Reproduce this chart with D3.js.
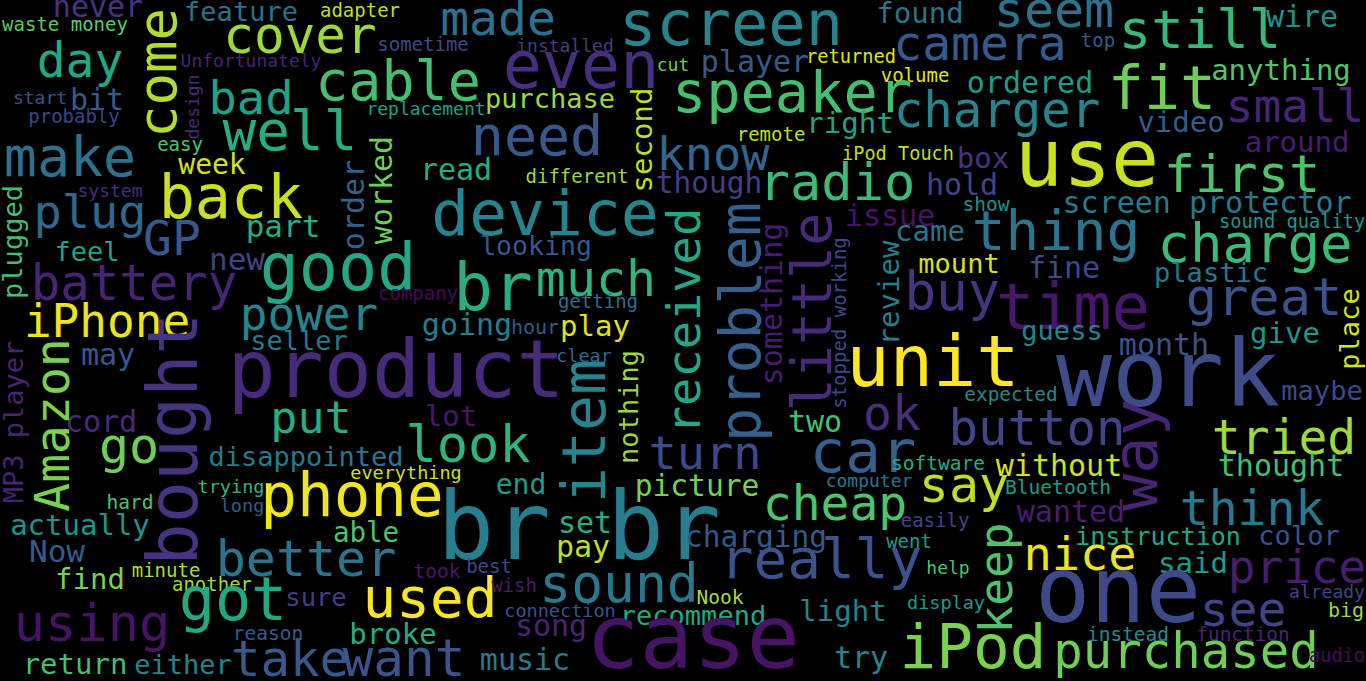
<!DOCTYPE html>
<html>
<head>
<meta charset="utf-8">
<script src="https://cdn.jsdelivr.net/npm/d3@7"></script>
<style>
  html, body { margin: 0; padding: 0; background: #000; overflow: hidden; }
  text { font-family: "DejaVu Sans Mono", "Liberation Mono", monospace; }
</style>
</head>
<body>
<svg id="cloud"></svg>
<script>
// words, relative frequency and colour tone (viridis position)
const words = [
  "never","waste money","feature","adapter","cover","made","sometime","installed","screen","found",
  "seem","still","wire","camera","top","day","cable","Unfortunately","start","bit",
  "probably","bad","well","make","easy","week","back","system","plug","GP",
  "part","feel","new","good","battery","company","iPhone","power","seller","going",
  "hour","play","may","product","cord","put","go","disappointed","lot","look",
  "everything","trying","hard","long","phone","actually","able","Now","better","find",
  "minute","took","another","got","sure","used","using","reason","broke","return",
  "either","take","want","even","cut","player","returned","volume","purchase","replacement",
  "speaker","need","read","remote","right","iPod Touch","know","different","though","radio",
  "device","looking","br","much","getting","issue","came","clear","unit","two",
  "ok","turn","car","end","picture","cheap","computer","software","set","br br",
  "pay","charging","really","best","wish","sound","Nook","connection","recommend","light",
  "song","case","music","try","ordered","fit","anything","charger","small","video",
  "around","box","use","first","hold","show","screen protector","thing","sound quality","charge",
  "mount","fine","plastic","buy","time","great","guess","give","month","work",
  "expected","maybe","button","tried","without","thought","say","Bluetooth","think","wanted",
  "easily","went","instruction","color","nice","said","price","help","one","already",
  "display","see","big","instead","function","iPod","purchased","audio",
  "come","design","order","worked","plugged","second","received","problem","something","little",
  "stopped working","review","place","MP3 player","Amazon","bought","nothing","item","way","keep"
];

const freq = [
  .30,.19,.27,.19,.51,.48,.19,.18,.62,.29,
  .50,.54,.30,.48,.19,.48,.55,.18,.18,.30,
  .19,.47,.56,.55,.19,.28,.60,.18,.47,.48,
  .31,.27,.31,.65,.49,.19,.46,.46,.27,.30,
  .20,.29,.30,.80,.30,.45,.50,.27,.29,.52,
  .185,.185,.195,.185,.61,.29,.275,.31,.50,.29,
  .19,.195,.19,.60,.255,.56,.52,.195,.29,.29,
  .27,.49,.51,.65,.18,.30,.187,.19,.27,.18,
  .57,.55,.30,.19,.29,.186,.47,.19,.295,.52,
  .63,.265,.66,.50,.19,.30,.29,.185,.72,.30,
  .48,.47,.59,.28,.296,.48,.18,.195,.30,.94,
  .30,.295,.56,.19,.19,.53,.195,.185,.27,.29,
  .30,.89,.30,.30,.30,.60,.29,.49,.46,.29,
  .29,.29,.80,.52,.30,.195,.30,.56,.187,.54,
  .27,.30,.27,.53,.64,.52,.27,.29,.30,.93,
  .194,.27,.49,.48,.30,.30,.50,.196,.48,.30,
  .19,.19,.25,.27,.47,.29,.46,.18,.92,.18,
  .185,.48,.20,.195,.194,.61,.49,.186,
  .54,.18,.30,.30,.27,.29,.47,.57,.30,.55,
  .19,.29,.27,.27,.48,.70,.27,.60,.62,.46
];

const tone = [
  .15,.75,.37,.90,.85,.37,.22,.18,.45,.38,
  .38,.67,.50,.28,.27,.60,.70,.10,.25,.28,
  .20,.58,.62,.37,.72,.93,.92,.13,.33,.27,
  .62,.58,.20,.60,.10,.02,.97,.45,.40,.42,
  .27,.95,.27,.12,.12,.62,.78,.40,.06,.65,
  .92,.66,.72,.28,.98,.52,.72,.28,.38,.80,
  .87,.06,.85,.60,.18,.99,.05,.28,.62,.70,
  .45,.27,.25,.14,.78,.28,.95,.95,.85,.57,
  .70,.27,.62,.90,.58,.90,.33,.85,.18,.68,
  .45,.27,.63,.65,.35,.05,.38,.33,1.0,.70,
  .14,.22,.30,.55,.80,.72,.40,.62,.62,.42,
  .90,.27,.25,.22,.07,.40,.87,.25,.60,.44,
  .10,.05,.40,.45,.55,.78,.73,.45,.10,.28,
  .08,.15,.92,.72,.20,.50,.40,.38,.52,.68,
  .93,.22,.40,.15,.06,.25,.46,.52,.25,.23,
  .47,.22,.20,.85,.93,.70,.90,.55,.40,.08,
  .20,.55,.60,.25,.97,.55,.08,.72,.22,.20,
  .55,.20,.85,.47,.10,.80,.78,.03,
  .88,.12,.30,.78,.70,.90,.60,.30,.08,.12,
  .22,.42,.93,.10,.80,.15,.85,.45,.10,.72
];

// words set bottom-to-top
const upright = ["come","design","order","worked","plugged","second","received","problem","something","little",
  "stopped working","review","place","MP3 player","Amazon","bought","nothing","item","way","keep"];

// layout spots in reference units (1366 x 681): middle of the word along its run, baseline across it
const spotX = [
  98,65,241,360,300,498,423,565,731,920,
  1054,1200,1302,980,1098,80,398,251,40,97,
  74,251,290,70,180,212,231,110,90,172,
  283,87,237,338,134,418,107,309,299,467,
  535,595,108,396,101,311,129,306,451,468,
  406,231,130,242,352,80,366,57,306,90,
  166,437,212,233,316,430,92,268,393,75,
  183,290,404,581,673,755,851,915,550,426,
  792,537,456,771,850,898,713,577,709,837,
  545,536,493,596,598,890,930,584,933,815,
  892,705,863,521,697,835,869,938,585,579,
  583,756,821,489,514,619,720,560,693,843,
  551,693,525,861,1030,1162,1281,997,1295,1181,
  1297,983,1087,1242,962,986,1207,1056,1292,1255,
  959,1064,1211,952,1073,1264,1062,1285,1164,1168,
  1011,1322,1037,1284,1059,1281,964,1058,1252,1071,
  935,909,1158,1299,1080,1193,1297,948,1118,1327,
  946,1243,1346,1128,1243,973,1186,1337,
  176,199,364,392,22,652,700,760,782,831,
  846,899,1359,23,69,197,638,605,1157,1012
];
const spotY = [
  17,31,21,17,53,35,51,52,45,23,
  27,48,27,60,47,77,100,67,104,110,
  123,114,150,176,151,174,218,197,228,255,
  237,261,270,290,300,300,337,330,350,335,
  334,336,365,397,432,433,463,466,426,462,
  479,493,509,512,516,535,542,562,576,589,
  577,578,591,620,606,617,641,640,644,674,
  674,676,676,88,71,72,63,82,108,115,
  112,155,180,141,133,160,170,183,193,200,
  235,255,310,296,308,226,241,362,386,432,
  430,469,472,494,496,520,487,470,533,559,
  557,547,578,573,592,602,604,617,625,621,
  636,668,670,668,93,109,80,127,122,132,
  152,168,186,192,195,211,213,250,228,262,
  273,278,282,310,329,315,340,343,355,406,
  401,400,445,454,476,476,502,494,525,522,
  527,548,545,545,570,573,583,574,622,598,
  609,626,617,641,641,668,668,662,
  73,107,205,190,242,140,321,322,304,312,
  323,293,329,422,425,439,407,431,455,578
];

const width = 1366, height = 681;

const x = d3.scaleLinear().domain([0, 1366]).range([0, width]);
const y = d3.scaleLinear().domain([0, 681]).range([0, height]);
const size = d3.scaleLinear().domain([0, 1]).range([0, 100]);
const color = d3.scaleSequential(d3.interpolateViridis).domain([0, 1]);

const data = words.map((w, i) => ({
  text: w,
  f: freq[i],
  t: tone[i],
  px: spotX[i],
  py: spotY[i],
  vert: upright.includes(w)
}));

const svg = d3.select("#cloud")
  .attr("width", width)
  .attr("height", height)
  .style("display", "block");

svg.append("rect")
  .attr("width", width)
  .attr("height", height)
  .attr("fill", "#000");

svg.append("g")
  .selectAll("text")
  .data(data)
  .join("text")
  .attr("text-anchor", "middle")
  .attr("transform", d => d.vert
    ? `translate(${x(d.px)},${y(d.py)}) rotate(-90)`
    : `translate(${x(d.px)},${y(d.py)})`)
  .style("font-size", d => size(d.f) + "px")
  .attr("fill", d => color(d.t))
  .text(d => d.text);
</script>
</body>
</html>
